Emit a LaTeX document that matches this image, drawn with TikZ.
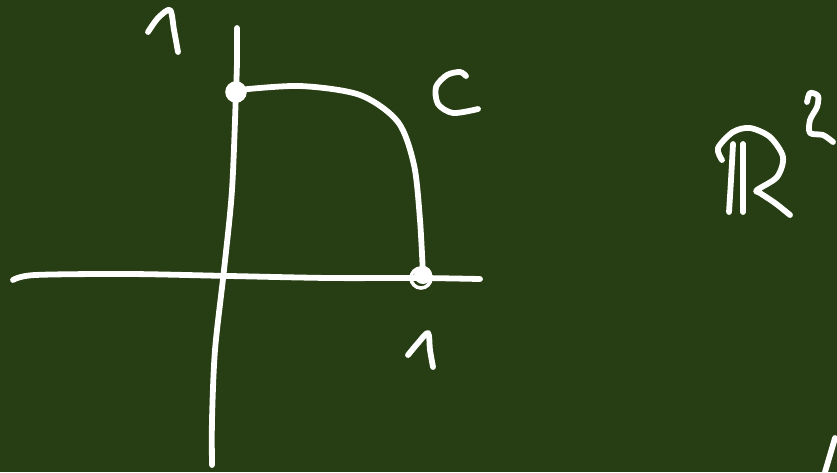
\documentclass[tikz,border=0pt]{standalone}
\begin{document}
\begin{tikzpicture}[x=0.01cm,y=-0.01cm,
  chalk/.style={draw=white,line width=1.65pt,line cap=round,line join=round}]
\definecolor{board}{RGB}{39,61,19}
\fill[board] (0,0) rectangle (837,472);
\useasboundingbox (0,0) rectangle (837,472);
% horizontal axis
\draw[chalk] plot[smooth] coordinates {(13,280) (35,275) (130,274) (230,276) (330,278) (420,278) (480,279)};
% vertical axis
\draw[chalk] plot[smooth] coordinates {(237,28) (237,60) (236,92) (232,190) (224,270) (215,350) (212,420) (212,465)};
% arc C
\draw[chalk] plot[smooth] coordinates {(238,90) (300,86) (360,95) (398,122) (414,165) (420,220) (423,275)};
% points
\fill[white] (236,92) circle (8);
\draw[white,line width=1pt] (236,92) circle (9);
\fill[white] (423,275) circle (9);
\draw[white,line width=1pt] (421,278) circle (10);
% labels "1"
\draw[chalk] plot[smooth] coordinates {(148,32) (158,18) (170,10) (174,30) (178,52)};
\draw[chalk] plot[smooth] coordinates {(408,355) (418,343) (428,333) (430,350) (433,367)};
% C
\draw[chalk] plot[smooth] coordinates {(466,76) (460,72) (447,75) (436,87) (438,104) (453,113) (478,109)};
% R
\draw[chalk] plot[smooth] coordinates {(733,144) (731,180) (729,212)};
\draw[chalk] plot[smooth] coordinates {(743,144) (743,180) (743,212)};
\draw[chalk] plot[smooth] coordinates {(722,160) (718,148) (733,132) (750,128) (770,137) (783,157) (777,177) (757,190) (760,193) (775,203) (790,215)};
% 2
\draw[chalk] plot[smooth] coordinates {(807,102) (810,93) (818,96) (817,107) (810,120) (810,133) (823,135) (833,142)};
% bottom right stroke
\draw[chalk] (835,438) -- (825,472);
\end{tikzpicture}
\end{document}
